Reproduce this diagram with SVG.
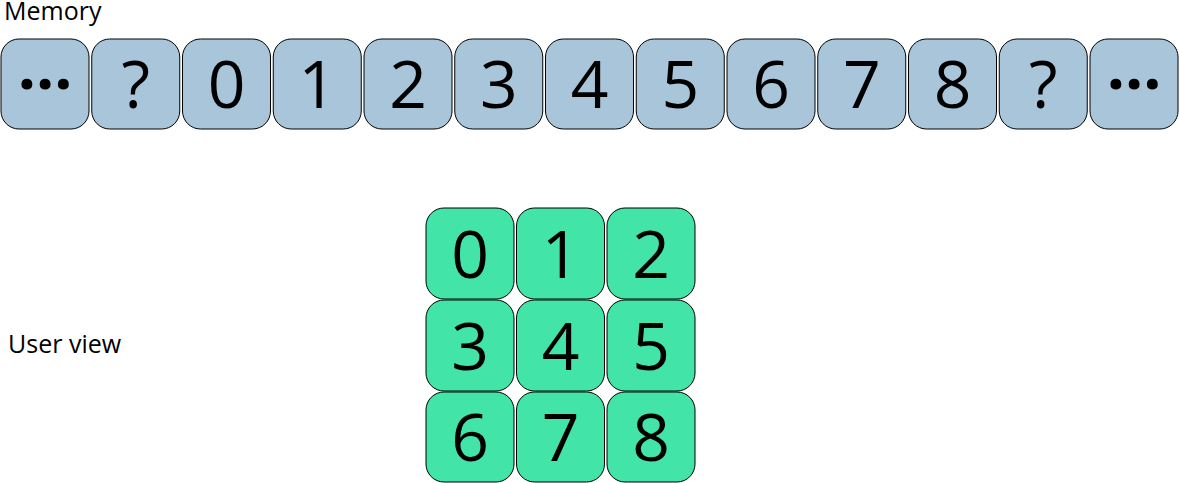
<svg xmlns="http://www.w3.org/2000/svg" width="1180" height="483" viewBox="0 0 1180 483">
<style>
.m{fill:#a9c5da;stroke:#000;stroke-width:1}
.u{fill:#42e5a7;stroke:#000;stroke-width:1}
.d{font-family:"Open Sans","Noto Sans",sans-serif;font-size:66px;text-anchor:middle;fill:#000}
.e{font-weight:700;font-size:64px}
.l{font-family:"Open Sans","Noto Sans",sans-serif;font-size:25px;fill:#000}
</style>
<rect width="1180" height="483" fill="#fff"/>
<text class="l" x="4" y="20">Memory</text>
<text class="l" x="8" y="353">User view</text>
<g id="memory">
<g id="m0"><rect class="m" x="1" y="39" width="88" height="90" rx="18"/><text class="d e" x="45" y="89">…</text></g>
<g id="m1"><rect class="m" x="91.75" y="39" width="88" height="90" rx="18"/><text class="d" x="135.75" y="108">?</text></g>
<g id="m2"><rect class="m" x="182.5" y="39" width="88" height="90" rx="18"/><text class="d" x="226.5" y="108">0</text></g>
<g id="m3"><rect class="m" x="273.25" y="39" width="88" height="90" rx="18"/><text class="d" x="317.25" y="108">1</text></g>
<g id="m4"><rect class="m" x="364" y="39" width="88" height="90" rx="18"/><text class="d" x="408" y="108">2</text></g>
<g id="m5"><rect class="m" x="454.75" y="39" width="88" height="90" rx="18"/><text class="d" x="498.75" y="108">3</text></g>
<g id="m6"><rect class="m" x="545.5" y="39" width="88" height="90" rx="18"/><text class="d" x="589.5" y="108">4</text></g>
<g id="m7"><rect class="m" x="636.25" y="39" width="88" height="90" rx="18"/><text class="d" x="680.25" y="108">5</text></g>
<g id="m8"><rect class="m" x="727" y="39" width="88" height="90" rx="18"/><text class="d" x="771" y="108">6</text></g>
<g id="m9"><rect class="m" x="817.75" y="39" width="88" height="90" rx="18"/><text class="d" x="861.75" y="108">7</text></g>
<g id="m10"><rect class="m" x="908.5" y="39" width="88" height="90" rx="18"/><text class="d" x="952.5" y="108">8</text></g>
<g id="m11"><rect class="m" x="999.25" y="39" width="88" height="90" rx="18"/><text class="d" x="1043.25" y="108">?</text></g>
<g id="m12"><rect class="m" x="1090" y="39" width="88" height="90" rx="18"/><text class="d e" x="1134" y="89">…</text></g>
</g>
<g id="userview">
<g id="u0"><rect class="u" x="426" y="208" width="88" height="91" rx="18"/><text class="d" x="470" y="278">0</text></g>
<g id="u1"><rect class="u" x="516.5" y="208" width="88" height="91" rx="18"/><text class="d" x="560.5" y="278">1</text></g>
<g id="u2"><rect class="u" x="607" y="208" width="88" height="91" rx="18"/><text class="d" x="651" y="278">2</text></g>
<g id="u3"><rect class="u" x="426" y="300" width="88" height="91" rx="18"/><text class="d" x="470" y="370">3</text></g>
<g id="u4"><rect class="u" x="516.5" y="300" width="88" height="91" rx="18"/><text class="d" x="560.5" y="370">4</text></g>
<g id="u5"><rect class="u" x="607" y="300" width="88" height="91" rx="18"/><text class="d" x="651" y="370">5</text></g>
<g id="u6"><rect class="u" x="426" y="392" width="88" height="90" rx="18"/><text class="d" x="470" y="461">6</text></g>
<g id="u7"><rect class="u" x="516.5" y="392" width="88" height="90" rx="18"/><text class="d" x="560.5" y="461">7</text></g>
<g id="u8"><rect class="u" x="607" y="392" width="88" height="90" rx="18"/><text class="d" x="651" y="461">8</text></g>
</g>
<g id="connectors"/>
</svg>
